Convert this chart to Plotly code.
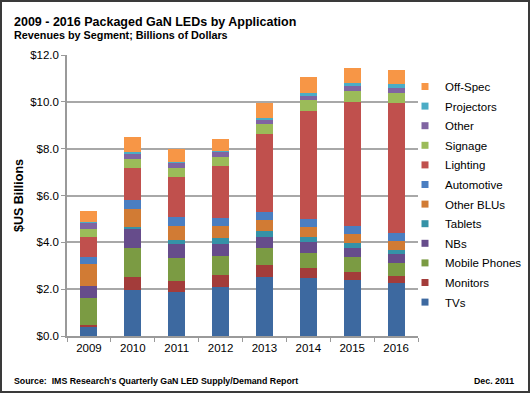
import plotly.graph_objects as go

years = ["2009", "2010", "2011", "2012", "2013", "2014", "2015", "2016"]

tvs           = [0.39, 1.96, 1.87, 2.10, 2.51, 2.46, 2.39, 2.27]
monitors      = [0.08, 0.58, 0.46, 0.50, 0.52, 0.44, 0.34, 0.29]
mobile_phones = [1.17, 1.22, 1.00, 0.80, 0.74, 0.66, 0.63, 0.57]
nbs           = [0.49, 0.81, 0.58, 0.53, 0.47, 0.45, 0.41, 0.38]
tablets       = [0.00, 0.07, 0.18, 0.26, 0.25, 0.22, 0.20, 0.18]
other_blus    = [0.93, 0.79, 0.62, 0.51, 0.48, 0.44, 0.39, 0.37]
automotive    = [0.30, 0.38, 0.39, 0.36, 0.34, 0.33, 0.35, 0.35]
lighting      = [0.85, 1.35, 1.69, 2.20, 3.32, 4.63, 5.30, 5.52]
signage       = [0.35, 0.41, 0.40, 0.40, 0.41, 0.43, 0.45, 0.44]
other         = [0.28, 0.24, 0.20, 0.20, 0.22, 0.23, 0.21, 0.22]
projectors    = [0.03, 0.03, 0.04, 0.05, 0.05, 0.08, 0.13, 0.17]
off_spec      = [0.47, 0.67, 0.54, 0.49, 0.63, 0.70, 0.66, 0.61]

series_names = ["TVs", "Monitors", "Mobile Phones", "NBs", "Tablets", "Other BLUs",
                "Automotive", "Lighting", "Signage", "Other", "Projectors", "Off-Spec"]
series_values = [tvs, monitors, mobile_phones, nbs, tablets, other_blus,
                 automotive, lighting, signage, other, projectors, off_spec]
colors = ["#3D69A0", "#A33C3A", "#7B9B43", "#664C8B", "#3592A7", "#D17B34",
          "#4A7EC1", "#C0504D", "#9BBB59", "#8064A2", "#4BACC6", "#F79646"]

FONT = "Liberation Sans, Arial, sans-serif"

# plot area in pixels
W, H = 530, 393
L, R, T, B = 67, 418, 55, 336


def px(xp):
    return (xp - L) / (R - L)


def py(yp):
    return (B - yp) / (B - T)


fig = go.Figure()
# stacked bars, TVs at the bottom
for name, vals, col in zip(series_names, series_values, colors):
    fig.add_trace(go.Bar(x=years, y=vals, name=name, marker_color=col,
                         marker_line_width=0, showlegend=False))
# legend entries (small square keys), Off-Spec at the top
for name, col in reversed(list(zip(series_names, colors))):
    fig.add_trace(go.Scatter(x=[None], y=[None], mode="markers", name=name,
                             legendgroup=name,
                             marker=dict(symbol="square", size=7, color=col)))

fig.update_layout(
    width=W, height=H,
    margin=dict(l=L, r=W - R, t=T, b=H - B, pad=0, autoexpand=False),
    barmode="stack",
    bargap=0.61,
    paper_bgcolor="white",
    plot_bgcolor="white",
    font=dict(family=FONT, size=11.5, color="black"),
    legend=dict(
        traceorder="grouped",
        tracegroupgap=0.6,
        xref="container", yref="container",
        x=405 / W, y=1 - 72 / H, xanchor="left", yanchor="top",
        font=dict(size=11.5, color="black"),
        bgcolor="rgba(0,0,0,0)",
        itemwidth=30,
        maxheight=300,
    ),
    xaxis=dict(
        type="category", range=[-0.5, 7.5],
        showline=True, linecolor="#9A9A9A", linewidth=1.5,
        ticks="outside", tickson="boundaries", ticklen=4, tickcolor="#9A9A9A",
        tickfont=dict(size=11.5, color="black"),
        showgrid=False, automargin=False,
    ),
    yaxis=dict(
        range=[0, 12], dtick=2, tickprefix="$", tickformat=".1f",
        showline=True, linecolor="#9A9A9A", linewidth=1.5,
        ticks="outside", ticklen=4, tickcolor="#9A9A9A",
        gridcolor="#A8A8A8", gridwidth=1.5,
        tickfont=dict(size=11.5, color="black"),
        title=dict(text="<b>$US Billions</b>", font=dict(size=12.5, color="black"), standoff=4),
        zeroline=False, automargin=False,
    ),
    annotations=[
        dict(text="<b>2009 - 2016 Packaged GaN LEDs by Application</b>",
             xref="paper", yref="paper", x=px(12), y=py(22), xanchor="left", yanchor="middle",
             showarrow=False, font=dict(size=12.5, color="black")),
        dict(text="<b>Revenues by Segment; Billions of Dollars</b>",
             xref="paper", yref="paper", x=px(12), y=py(35), xanchor="left", yanchor="middle",
             showarrow=False, font=dict(size=10.8, color="black")),
        dict(text="<b>Source:  IMS Research's Quarterly GaN LED Supply/Demand Report</b>",
             xref="paper", yref="paper", x=px(12), y=py(381), xanchor="left", yanchor="middle",
             showarrow=False, font=dict(size=8.8, color="black")),
        dict(text="<b>Dec. 2011</b>",
             xref="paper", yref="paper", x=px(516), y=py(381), xanchor="right", yanchor="middle",
             showarrow=False, font=dict(size=8.8, color="black")),
    ],
    shapes=[
        dict(type="rect", xref="paper", yref="paper",
             x0=px(1), x1=px(529), y0=py(392), y1=py(1),
             line=dict(color="#3A3A3A", width=2), fillcolor="rgba(0,0,0,0)", layer="above"),
    ],
)

fig.write_html(
    "out.html",
    config={"displayModeBar": False},
    post_script="document.body.style.margin='0';document.body.style.overflow='hidden';",
)
